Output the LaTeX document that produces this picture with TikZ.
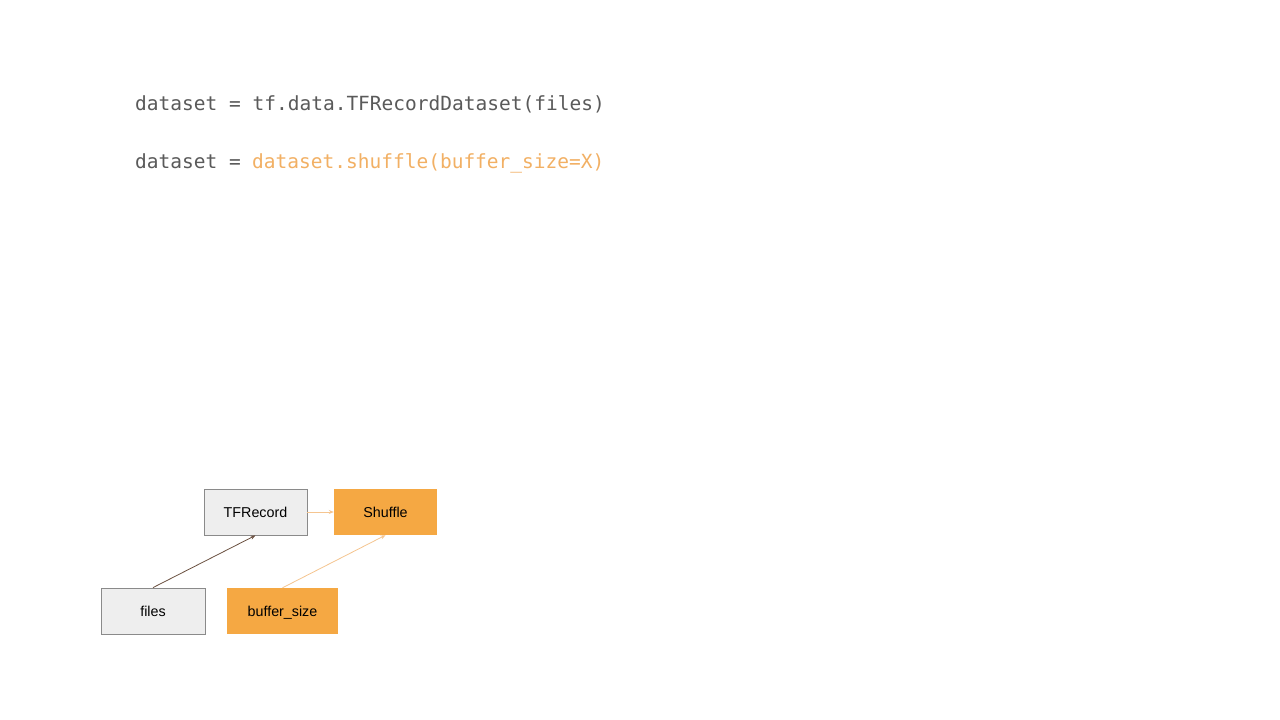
\documentclass[tikz,border=0pt]{standalone}
\usepackage{fontspec}
\setmainfont{Liberation Sans}
\setmonofont{DejaVu Sans Mono}
\usetikzlibrary{arrows.meta}
\definecolor{codegray}{HTML}{5A5A5A}
\definecolor{codeorange}{HTML}{F2B064}
\definecolor{boxorange}{HTML}{F5A843}
\definecolor{boxgray}{HTML}{EEEEEE}
\definecolor{boxline}{HTML}{8A8A8A}
\definecolor{darkarrow}{HTML}{6B5040}
\definecolor{lightarrow}{HTML}{F5C590}
\tikzset{
  boxtext/.style={inner sep=0pt, text height=10.2pt, text depth=0pt, font=\fontsize{14.3}{16}\selectfont},
  graybox/.style={boxtext, draw=boxline, line width=0.8pt, fill=boxgray},
  orangebox/.style={boxtext, draw=none, fill=boxorange},
  code/.style={anchor=base west, inner sep=0pt, font=\ttfamily\fontsize{19.5}{22}\selectfont},
  conn/.style={line width=0.8pt, -{Stealth[length=5pt,width=4pt]}}
}
\begin{document}
\begin{tikzpicture}[x=1pt,y=1pt]
\useasboundingbox[fill=white] (0,0) rectangle (1280,720);
\node[code, text=codegray] (l1) at (135,609) {dataset = tf.data.TFRecordDataset(files)};
\node[code, text=codegray] (l2a) at (135,551) {dataset =};
\node[code, text=codeorange] (l2b) at (252,551) {dataset.shuffle(buffer\_size=X)};
\node[graybox, minimum width=103pt, minimum height=46pt] (tfr) at (255.5,208) {TFRecord};
\node[orangebox, minimum width=103pt, minimum height=46pt] (shf) at (385.5,208) {Shuffle};
\node[graybox, minimum width=104pt, minimum height=46pt] (files) at (153,109) {files};
\node[orangebox, minimum width=111pt, minimum height=46pt] (buf) at (282.5,109) {buffer\_size};
\draw[conn, draw=darkarrow] (files.north) -- (tfr.south);
\draw[conn, draw=lightarrow] (buf.north) -- (shf.south);
\draw[conn, draw=lightarrow] (tfr.east) -- (shf.west);
\end{tikzpicture}
\end{document}
